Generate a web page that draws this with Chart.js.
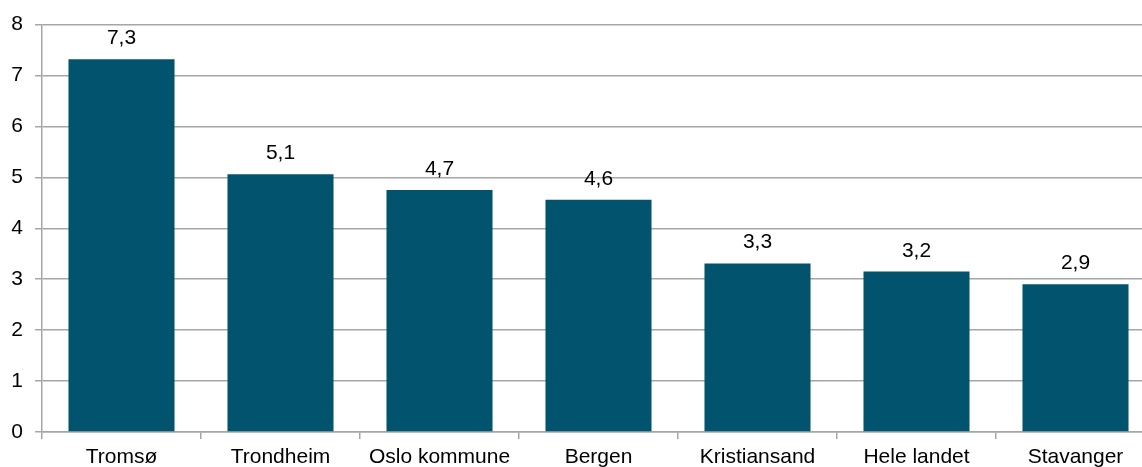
<!DOCTYPE html>
<html>
<head>
<meta charset="utf-8">
<script src="https://cdn.jsdelivr.net/npm/chart.js@4/dist/chart.umd.min.js"></script>
<style>
  html, body { margin: 0; padding: 0; overflow: hidden; background: #fff; }
  #wrap { width: 1160px; height: 467px; position: relative; }
</style>
</head>
<body>
<div id="wrap"><canvas id="c"></canvas></div>
<script>
const categories = ["Tromsø", "Trondheim", "Oslo kommune", "Bergen", "Kristiansand", "Hele landet", "Stavanger"];
const values = [7.32, 5.06, 4.75, 4.56, 3.31, 3.15, 2.90];
const valueLabels = ["7,3", "5,1", "4,7", "4,6", "3,3", "3,2", "2,9"];
const yTicks = [0, 1, 2, 3, 4, 5, 6, 7, 8];

const FONT = "'Liberation Sans', Arial, sans-serif";
const GRID = '#a6a6a6';

const dataLabels = {
  id: 'dataLabels',
  afterDatasetsDraw(chart) {
    const ctx = chart.ctx;
    const meta = chart.getDatasetMeta(0);
    ctx.save();
    ctx.font = '21px ' + FONT;
    ctx.fillStyle = '#000';
    ctx.textAlign = 'center';
    ctx.textBaseline = 'alphabetic';
    meta.data.forEach((bar, i) => {
      ctx.fillText(valueLabels[i], bar.x, bar.y - 15);
    });
    ctx.restore();
  }
};

new Chart(document.getElementById('c'), {
  type: 'bar',
  data: {
    labels: categories,
    datasets: [{
      data: values,
      backgroundColor: '#02546e',
      borderWidth: 0,
      barPercentage: 0.667,
      categoryPercentage: 1.0
    }]
  },
  options: {
    responsive: true,
    maintainAspectRatio: false,
    animation: false,
    layout: { padding: { top: 24, right: 5, left: 0, bottom: 0 } },
    plugins: { legend: { display: false }, tooltip: { enabled: false } },
    scales: {
      x: {
        offset: true,
        grid: {
          offset: true,
          drawOnChartArea: false,
          drawTicks: true,
          tickLength: 7,
          color: GRID,
          lineWidth: 1.5
        },
        border: { color: GRID, width: 1.5 },
        ticks: {
          color: '#000',
          font: { family: FONT, size: 21 },
          padding: 6,
          maxRotation: 0,
          autoSkip: false
        },
        afterFit(scale) { scale.height = 35; }
      },
      y: {
        min: 0,
        max: 8,
        afterBuildTicks(scale) { scale.ticks = yTicks.map(v => ({ value: v })); },
        grid: {
          color: GRID,
          lineWidth: 1.5,
          tickLength: 7,
          drawTicks: true
        },
        border: { color: GRID, width: 1.5 },
        ticks: {
          color: '#000',
          font: { family: FONT, size: 21 },
          padding: 12
        },
        afterFit(scale) { scale.width = 42; }
      }
    }
  },
  plugins: [dataLabels]
});
</script>
</body>
</html>
